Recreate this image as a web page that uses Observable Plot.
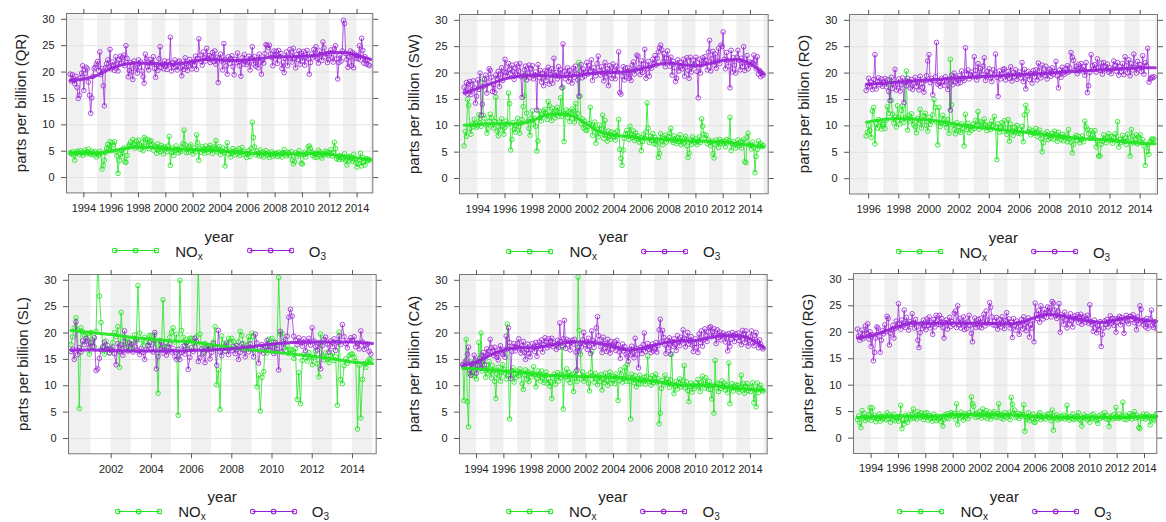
<!DOCTYPE html>
<html><head><meta charset="utf-8">
<script src="https://cdn.jsdelivr.net/npm/d3@7"></script>
<script src="https://cdn.jsdelivr.net/npm/@observablehq/plot@0.6"></script>
<style>
body{margin:0;background:#fff;font-family:"Liberation Sans",Arial,sans-serif;}
#wrap{position:relative;width:1166px;height:522px;overflow:hidden;background:#fff;}
.pl{position:absolute;}
.ytitle{position:absolute;white-space:nowrap;font-size:15px;color:#222;transform:translate(-50%,-50%) rotate(-90deg);}
.xtitle{position:absolute;white-space:nowrap;font-size:15px;color:#222;transform:translate(-50%,-50%);}
.leg{position:absolute;display:flex;align-items:center;white-space:nowrap;font-size:15px;color:#222;transform:translate(-50%,-50%);}
.leg sub{font-size:10px;vertical-align:-3px;line-height:0;}
</style></head><body><div id="wrap"></div><script>
// ---------- data (monthly means, ppb) ----------
const stations = ["QR","SW","RO","SL","CA","RG"];
const startYears = [1993,1993,1995,2000,1993,1993];
const startMonths = [0,0,10,0,0,0];

const qrNOx = [
4.7,4.5,4.9,4.3,3.3,4.6,5.0,4.8,4.4,5.1,4.7,4.2,
4.8,5.2,4.5,4.9,5.4,4.6,4.4,5.0,4.7,4.3,4.9,3.9,
4.6,4.2,5.0,4.6,1.6,2.3,3.3,4.8,5.6,6.3,5.4,6.8,
5.1,6.6,6.2,6.8,5.0,4.1,0.8,3.2,4.4,5.2,4.0,5.6,
3.0,2.9,4.2,5.8,6.2,6.7,5.9,7.2,6.3,5.6,6.9,5.8,
7.1,6.2,5.4,6.6,5.1,7.6,7.3,6.0,7.2,5.5,6.8,7.0,
6.3,5.2,6.0,5.8,4.6,6.4,5.3,4.9,6.1,5.7,4.5,5.8,
5.5,4.9,6.0,7.8,2.3,4.8,5.6,4.2,5.1,6.0,5.3,4.7,
5.2,4.9,5.8,6.4,9.0,6.2,4.7,5.4,4.8,5.9,6.2,5.1,
4.5,5.6,4.9,8.1,6.6,3.3,5.5,4.8,5.9,5.2,4.6,6.0,
5.3,4.8,5.7,6.1,5.2,4.6,5.8,5.5,7.0,4.9,5.4,5.9,
4.4,5.0,5.6,4.8,2.2,5.3,6.6,4.5,5.1,3.9,4.7,5.5,
4.9,4.3,5.2,4.6,5.5,4.2,4.8,5.7,4.4,5.0,4.6,3.8,
4.5,5.1,4.0,5.5,10.5,7.6,5.8,4.3,5.0,4.6,4.1,5.2,
4.2,4.8,3.9,4.6,5.1,4.3,4.7,3.8,4.4,4.9,4.0,4.6,
4.3,4.6,4.0,4.8,4.2,4.5,3.9,4.7,5.3,4.4,4.1,4.8,
4.6,4.2,4.9,3.3,2.6,3.0,4.7,4.0,4.5,5.1,4.3,2.7,
2.6,4.4,4.8,3.9,4.6,5.8,6.0,5.5,4.9,4.2,4.6,3.8,
4.4,3.9,5.2,4.8,4.1,3.7,4.6,4.3,5.0,4.5,4.9,4.2,
4.6,5.3,4.1,4.7,6.7,5.5,3.6,3.9,3.4,4.2,3.8,3.5,
3.7,4.5,3.3,2.4,3.9,3.2,4.0,3.6,3.1,4.4,3.5,2.8,
2.0,2.6,3.4,4.6,2.2,3.8,3.0,2.4,3.6,3.2,3.5,3.3];
const qrO3 = [
19.6,18.3,19.5,18.4,17.8,19.2,17.1,15.0,15.6,18.9,19.8,21.2,
16.5,19.7,20.9,20.6,18.1,15.6,12.2,15.1,19.2,20.6,20.9,21.5,
22.0,20.3,23.8,19.5,20.7,17.4,13.6,20.8,21.6,22.3,21.0,24.3,
20.6,21.9,21.3,20.3,22.9,21.5,20.2,22.4,23.0,21.7,22.8,23.2,
21.2,25.0,22.6,19.1,20.3,21.8,20.0,18.6,22.1,21.0,20.7,19.8,
22.3,21.0,21.9,20.2,19.1,17.9,23.4,22.5,21.0,20.4,22.4,21.6,
21.8,22.9,20.7,19.0,21.4,20.3,22.5,24.8,20.9,21.5,20.6,22.1,
21.3,20.5,22.0,21.4,26.6,20.2,21.7,20.9,22.3,21.0,20.4,21.9,
22.1,20.8,19.3,21.0,20.5,22.7,21.6,20.3,21.2,22.4,21.7,20.6,
22.0,21.4,23.0,20.5,22.6,26.3,23.2,22.0,21.3,23.8,22.7,22.1,
24.5,22.6,23.1,21.8,22.9,23.7,22.0,24.0,21.5,22.8,18.0,22.6,
23.4,22.1,20.4,25.4,22.3,21.2,19.6,22.9,21.7,22.5,23.1,21.0,
19.5,22.4,21.8,23.6,22.0,21.2,19.2,22.7,21.5,23.3,22.1,21.4,
21.8,23.0,20.4,22.6,24.8,21.5,22.9,21.1,22.3,20.8,23.4,21.9,
19.6,22.3,21.7,23.5,25.2,25.0,24.6,25.1,23.4,22.8,21.2,24.0,
22.5,23.9,21.6,24.1,22.9,23.5,20.7,21.8,19.9,22.6,23.8,21.2,
22.7,24.3,23.1,21.9,24.5,22.6,20.8,23.3,22.4,24.0,21.5,23.6,
22.1,23.9,21.3,22.8,24.1,22.5,19.6,21.8,23.4,22.7,24.3,23.0,
24.8,22.6,21.7,24.0,23.3,22.2,25.7,24.6,22.9,23.5,21.8,22.4,
23.6,24.2,22.7,21.9,24.4,25.0,22.5,18.7,21.8,23.2,22.1,24.0,
29.8,29.2,23.5,22.4,20.9,22.8,24.0,21.2,23.7,20.8,23.4,22.6,
23.1,22.5,25.0,22.3,26.4,24.1,21.7,22.9,21.5,22.3,21.4,21.2];

const swNOx = [
6.2,8.9,8.0,15.0,13.9,9.5,8.4,10.3,9.8,11.2,10.4,9.7,
10.0,12.1,10.6,9.9,18.9,12.0,11.4,10.2,8.6,9.4,10.8,12.2,
11.5,10.2,9.6,10.8,15.4,9.0,8.1,10.7,9.2,11.3,10.0,8.4,
9.7,10.9,10.2,16.2,14.2,5.4,7.4,10.6,9.3,8.8,10.1,11.4,
9.8,8.6,10.5,11.2,13.6,15.7,19.5,12.4,10.8,9.5,8.2,11.5,
12.8,10.3,11.4,9.9,5.2,7.1,12.8,11.6,10.9,12.2,12.7,13.1,
12.4,11.2,14.6,13.8,12.0,11.0,13.3,12.6,11.5,12.9,13.5,11.8,
12.5,15.3,11.8,17.3,7.0,12.2,13.0,11.6,12.7,10.8,12.4,13.2,
12.8,10.7,14.2,11.5,12.3,22.0,15.6,10.4,11.3,9.6,10.9,9.2,
9.1,9.8,10.4,13.5,10.1,8.2,9.6,10.7,6.7,9.3,7.9,10.1,
8.5,9.4,12.0,7.6,11.0,8.3,7.1,9.0,8.0,7.5,8.8,7.9,
8.6,7.3,8.1,9.0,11.2,5.5,3.8,2.5,5.4,7.6,8.4,9.1,
8.5,7.4,9.9,8.3,7.8,9.0,7.2,8.6,7.5,8.1,6.9,7.7,
5.3,7.0,8.4,7.6,8.8,14.3,9.5,6.8,8.0,7.2,8.5,6.6,
7.8,6.5,7.3,4.0,4.8,8.5,7.1,6.4,7.6,8.2,6.9,7.4,
7.9,8.6,9.5,7.2,6.8,8.1,7.5,6.6,7.8,7.0,8.3,6.4,
7.1,6.7,7.6,8.0,6.2,4.0,4.8,7.3,6.5,7.9,7.2,6.8,
7.5,6.4,7.0,7.9,6.8,11.3,9.9,8.4,7.7,8.2,6.6,7.3,
6.9,6.2,7.1,4.7,3.9,6.4,7.3,6.8,5.9,7.4,6.7,7.0,
6.7,7.1,6.0,7.4,6.8,7.2,11.6,5.3,6.6,7.0,6.4,5.8,
6.5,7.3,6.2,6.9,5.8,7.0,7.4,3.2,3.0,7.8,8.6,6.4,
6.3,5.6,6.9,5.9,1.1,4.2,5.5,7.1,6.2,6.6,6.0,6.3];
const swO3 = [
17.3,16.4,18.2,16.0,17.9,18.4,15.9,16.8,18.5,17.2,14.3,15.6,
18.7,16.9,20.0,12.0,14.1,17.5,18.8,19.6,16.2,18.3,20.8,20.5,
19.2,16.5,17.8,16.3,19.6,18.9,20.3,17.4,19.8,21.0,18.6,20.2,
22.6,20.1,19.4,21.8,20.7,19.9,21.5,20.3,18.8,20.9,21.7,19.6,
20.4,21.8,19.3,15.4,19.5,20.6,21.3,18.7,20.0,21.5,19.1,20.8,
21.4,18.9,19.6,20.2,13.0,21.6,19.2,20.5,18.3,19.9,17.6,20.4,
18.6,20.3,21.1,17.9,19.7,20.8,18.1,22.8,19.5,20.1,18.9,21.2,
19.4,20.6,17.2,25.5,20.3,18.9,19.8,21.0,18.4,20.5,19.6,18.1,
20.9,19.2,21.3,19.8,18.7,15.6,20.4,21.6,19.1,20.7,19.4,20.2,
22.0,19.8,21.4,20.3,22.5,18.6,21.0,20.1,19.5,21.8,23.2,20.4,
19.6,21.2,20.0,18.5,22.0,19.3,20.8,17.6,21.4,20.3,19.0,21.7,
20.5,18.9,21.3,20.2,24.0,16.3,16.0,19.4,21.2,18.7,20.9,19.3,
21.0,19.0,20.4,18.6,21.5,22.1,19.8,20.6,23.4,23.2,21.0,19.7,
22.3,20.1,21.7,24.5,19.0,20.8,22.2,19.4,21.3,20.9,22.6,21.8,
23.3,21.5,22.8,24.0,24.8,25.3,24.4,22.1,23.6,21.2,22.8,24.2,
22.7,21.3,23.0,19.6,22.2,21.0,18.4,19.0,22.5,20.4,22.0,21.2,
20.8,22.6,19.4,21.8,22.9,20.5,19.0,23.0,20.2,21.3,22.4,21.5,
23.0,20.3,15.3,22.6,20.0,21.6,22.9,21.9,23.1,22.4,20.6,24.0,
26.2,20.4,22.7,24.1,21.5,23.6,20.9,22.3,24.7,21.8,25.3,25.0,
27.8,22.6,20.8,23.9,22.4,21.3,17.2,24.3,20.2,22.9,21.5,20.0,
23.0,24.3,22.4,20.6,22.8,21.2,25.0,20.5,22.0,23.3,20.8,22.1,
21.6,22.0,21.9,23.4,22.3,20.8,23.1,19.8,20.5,19.3,20.0,19.6];

const roNOx = [
8.1,8.8,
10.0,9.1,7.8,12.8,13.5,6.6,10.4,9.6,11.2,10.7,9.4,10.3,
10.3,9.5,11.1,13.6,12.4,18.7,14.8,12.2,10.6,11.7,9.8,13.8,
11.6,10.4,12.9,13.8,10.7,11.5,20.4,9.2,12.0,10.9,12.3,11.1,
10.2,9.8,8.7,11.4,10.5,13.1,9.6,10.8,11.9,12.4,10.1,9.0,
11.6,10.3,10.9,12.1,15.0,13.5,10.7,6.4,13.5,9.9,10.5,12.0,
11.3,10.4,9.7,11.2,8.6,22.6,14.0,10.2,9.3,8.5,10.6,9.8,
9.1,8.8,10.4,9.5,6.2,12.2,9.3,10.5,8.7,9.9,9.2,10.3,
9.5,11.0,10.1,12.7,9.4,10.8,10.6,9.8,11.3,10.2,9.1,10.0,
10.2,9.3,10.9,10.1,11.8,9.7,3.6,10.4,8.8,9.5,10.6,9.0,
11.0,9.6,8.4,11.2,7.1,10.3,9.0,8.2,9.7,8.9,10.1,8.6,
9.2,8.5,9.9,7.0,12.1,13.9,12.8,8.9,9.4,8.3,9.1,8.6,
8.7,9.5,8.0,8.8,9.2,7.6,5.1,6.8,8.5,7.9,8.9,7.4,
8.2,7.7,8.6,7.5,9.0,8.3,7.1,8.8,8.0,7.4,8.4,7.2,
7.9,8.3,7.0,9.3,7.6,6.9,4.9,6.5,7.8,8.2,7.3,8.0,
6.8,7.4,8.1,7.0,10.9,9.8,9.3,8.5,7.6,9.1,8.2,7.7,
9.1,6.0,7.2,4.3,4.3,6.5,7.1,8.3,7.6,6.8,7.9,8.5,
7.3,8.0,6.7,7.8,8.5,7.2,10.8,6.0,7.4,6.9,8.2,7.0,
7.7,6.5,8.4,7.1,4.3,9.3,8.1,6.8,7.5,8.3,6.6,7.9,
8.3,6.9,7.4,6.2,2.5,5.2,6.5,4.6,7.0,7.5,7.4,7.5];
const roO3 = [
16.7,17.6,
19.0,17.4,18.3,16.9,18.8,23.5,17.0,18.4,19.1,17.8,18.9,17.5,
18.2,19.0,17.4,18.7,16.5,14.8,19.2,17.1,18.0,20.7,16.8,17.9,
18.9,16.6,17.8,19.1,14.4,18.3,17.6,19.0,18.4,17.2,18.8,16.9,
18.1,19.2,17.5,18.4,16.8,19.4,18.0,17.3,16.4,18.6,19.5,22.3,
23.5,18.2,19.0,15.9,18.6,19.3,25.8,17.9,18.2,17.5,19.0,18.4,
17.7,19.3,18.5,16.9,18.8,13.0,19.6,17.8,20.0,18.3,19.1,18.0,
19.5,18.2,20.4,19.0,18.6,24.8,19.8,20.6,18.9,19.7,20.2,19.3,
23.1,20.5,18.7,21.8,19.4,20.9,19.8,21.3,22.9,18.6,20.3,19.5,
20.8,19.1,18.4,20.6,19.7,23.6,19.2,15.6,20.4,18.9,19.8,20.7,
20.8,18.7,19.5,20.3,19.0,21.2,18.5,20.1,19.3,20.6,18.8,19.7,
20.2,19.1,22.0,18.4,20.7,17.0,19.5,20.3,18.8,19.9,18.1,20.5,
19.3,20.6,18.7,21.9,20.4,19.1,21.5,20.0,19.6,21.3,18.9,20.2,
20.7,19.4,21.0,19.8,20.3,22.2,19.5,17.2,20.6,19.2,21.1,20.1,
19.8,20.9,21.4,20.2,21.0,23.9,23.0,22.4,20.5,21.3,19.9,21.6,
20.4,21.8,20.7,21.2,19.6,22.0,16.3,17.6,20.1,23.5,21.4,20.8,
21.6,20.2,22.7,21.0,20.5,21.9,19.8,22.0,21.3,20.6,21.7,20.2,
21.0,19.9,20.8,22.3,21.5,20.4,22.0,19.6,21.2,20.3,21.8,19.7,
23.1,21.4,20.1,22.5,19.5,21.8,20.6,23.6,21.1,20.0,22.2,20.9,
21.6,20.3,23.3,19.8,22.0,21.4,24.7,18.3,18.9,19.2,19.1,19.3];

const slNOx = [
17.8,19.3,21.0,22.9,20.6,5.7,21.0,20.2,19.6,18.4,19.9,16.0,
20.1,18.7,17.4,20.3,34.0,27.0,22.0,17.2,16.0,18.5,17.0,16.3,
17.0,18.2,20.1,19.3,21.2,13.5,23.9,18.4,17.6,19.0,18.1,16.9,
18.5,17.2,19.6,18.5,29.0,20.0,18.7,17.6,19.2,18.4,17.7,19.5,
19.5,18.1,19.7,17.9,8.6,18.6,17.3,26.3,16.8,18.0,17.4,19.2,
20.1,21.0,18.3,19.8,4.4,30.0,20.5,19.2,17.6,18.8,16.9,19.0,
19.0,18.2,17.5,19.3,33.0,19.8,17.8,16.4,18.0,17.2,16.9,17.0,
17.0,18.3,21.2,10.2,13.0,5.5,19.4,18.1,16.6,17.8,19.0,18.2,
19.0,18.4,17.2,16.9,18.3,20.3,19.5,18.0,16.8,17.7,19.3,18.6,
20.0,19.4,17.1,9.8,12.0,5.2,11.6,12.7,17.5,16.2,18.8,17.4,
19.0,18.3,16.4,17.7,30.5,19.8,19.9,18.4,16.7,17.5,16.1,16.8,
16.8,15.2,17.0,7.4,12.5,6.6,14.8,16.0,15.4,14.7,16.3,15.5,
14.0,15.3,16.5,14.2,11.7,19.8,15.6,14.9,16.2,15.0,14.4,15.8,
16.2,14.8,15.5,6.3,20.2,11.2,10.4,13.8,15.1,14.3,15.7,16.0,
16.0,15.4,14.6,1.8,13.9,3.9,11.2,14.2,13.5,14.5,15.0,15.0];
const slO3 = [
16.5,16.9,15.0,22.1,15.9,17.2,16.4,18.5,17.8,19.0,18.6,17.3,
18.2,17.5,19.1,12.9,13.2,15.2,16.8,17.4,18.3,16.9,17.6,16.2,
16.8,17.3,16.1,14.0,18.0,16.5,17.8,15.8,20.4,17.2,16.6,18.1,
17.9,16.4,17.5,18.8,16.7,15.9,17.1,16.3,15.0,16.8,17.6,18.2,
17.0,16.4,20.1,13.2,15.5,16.9,18.3,16.2,17.4,15.8,16.6,17.9,
16.4,17.1,15.6,15.0,16.9,15.0,16.3,17.5,16.0,18.2,13.1,15.4,
17.2,16.5,19.0,18.4,14.6,15.3,17.0,16.1,14.4,16.8,17.6,15.1,
16.3,18.0,17.2,13.9,20.5,16.4,15.7,17.3,16.6,18.1,15.9,17.0,
16.7,17.4,16.1,17.6,15.0,16.3,17.9,16.8,15.5,17.2,16.4,18.0,
16.9,15.5,19.8,18.1,14.3,16.6,17.8,16.2,17.4,18.6,16.8,17.5,
17.3,16.1,18.2,17.0,13.0,20.3,16.5,17.9,18.8,19.4,23.0,24.5,
23.2,19.4,18.6,17.8,19.1,18.2,17.5,18.9,16.6,18.3,19.0,17.7,
21.0,18.5,17.4,16.8,18.1,13.2,17.6,18.8,19.2,17.9,16.4,18.5,
17.4,18.9,16.7,18.2,19.4,17.8,21.6,19.3,18.0,17.2,18.6,19.1,
18.6,19.3,17.4,18.1,17.0,20.4,18.3,16.9,17.7,17.9,16.5,16.0];

const caNOx = [
14.0,7.2,13.5,18.8,7.0,2.2,12.3,14.5,12.0,13.6,11.8,14.9,
11.3,13.7,18.2,14.1,20.0,12.8,15.0,13.2,11.6,13.9,12.4,14.6,
12.7,11.5,13.8,12.9,10.8,7.6,12.2,13.5,11.9,10.9,12.6,14.0,
13.1,12.4,11.3,21.7,12.0,3.7,11.8,12.9,13.4,10.7,12.2,11.6,
12.8,11.9,13.2,12.5,10.4,9.3,12.1,13.0,11.2,12.7,10.8,12.4,
11.7,12.3,13.6,12.1,9.8,11.4,12.8,12.0,10.9,12.8,11.5,10.6,
11.9,12.6,10.5,11.3,9.9,10.7,7.6,11.4,12.2,10.3,11.8,12.5,
10.9,12.1,11.6,17.3,5.6,11.8,12.4,13.2,11.1,12.5,10.6,11.9,
12.2,8.9,11.5,12.7,10.8,30.6,20.5,16.0,11.3,12.6,10.9,11.7,
11.4,12.0,10.5,9.0,12.5,16.5,11.9,10.7,12.3,11.5,10.2,11.8,
10.8,12.1,9.2,11.3,10.6,12.4,11.0,10.1,11.7,12.6,10.5,11.2,
11.8,10.4,12.2,11.5,7.2,11.0,13.0,12.1,10.7,11.4,13.5,10.9,
14.0,11.5,10.8,3.7,12.2,11.1,10.6,11.9,9.8,11.3,10.4,12.0,
10.4,11.2,10.9,11.6,10.3,11.8,15.6,10.8,11.4,10.1,11.9,10.6,
11.5,12.2,10.7,11.3,2.8,4.8,9.5,11.0,10.2,12.0,10.6,11.2,
10.5,9.7,11.1,16.0,10.3,8.5,9.9,10.8,9.4,10.6,11.3,9.8,
10.2,11.0,13.8,9.6,10.7,9.1,7.0,9.9,10.5,8.8,10.1,9.5,
10.5,9.8,11.2,10.0,8.9,10.7,11.8,10.3,9.6,11.5,10.1,9.4,
10.8,9.3,7.5,10.1,4.8,14.8,9.7,10.5,8.9,10.3,9.5,10.9,
9.8,10.5,9.2,10.1,8.7,14.3,6.6,9.6,10.4,9.0,9.9,10.2,
9.4,10.1,8.8,9.7,12.0,9.2,10.4,8.6,9.9,10.4,9.1,9.6,
8.9,9.8,10.6,6.8,9.3,6.0,10.5,8.7,9.6,10.1,9.2,9.0];
const caO3 = [
14.0,13.6,14.5,14.9,16.0,17.3,13.0,12.0,14.2,13.5,15.8,14.7,
12.4,13.9,14.6,15.2,13.3,15.8,16.3,14.0,15.5,17.0,15.9,16.6,
18.8,17.2,16.5,15.7,17.3,16.0,15.4,14.9,16.8,17.6,16.2,15.9,
16.8,15.4,19.4,17.0,21.0,18.2,11.4,16.5,17.4,18.0,16.6,17.3,
18.0,18.9,17.1,16.2,17.6,18.4,16.3,15.0,16.8,17.9,16.1,15.5,
16.9,18.0,17.3,16.5,18.2,15.6,17.5,18.3,17.0,18.7,16.4,17.8,
19.1,18.3,17.2,18.9,17.6,18.5,19.0,17.4,18.1,17.7,16.9,18.6,
17.3,21.9,18.4,17.6,18.9,22.4,17.1,18.8,17.9,18.5,16.8,18.2,
18.6,17.9,18.8,16.4,13.0,17.3,16.5,18.1,17.4,18.7,20.1,17.8,
18.3,16.9,19.0,17.5,16.1,20.4,18.6,17.3,18.2,21.0,23.1,19.5,
18.7,17.4,16.3,19.2,18.0,17.1,16.5,18.8,17.6,16.2,18.4,17.0,
17.5,18.3,16.7,18.6,17.8,16.4,15.2,17.0,17.9,16.6,17.4,16.0,
15.6,14.6,16.9,15.9,17.5,16.2,15.3,19.0,17.1,16.0,13.4,16.8,
17.3,16.1,17.8,20.0,16.5,17.2,18.0,16.9,17.4,16.3,17.9,16.6,
17.0,18.2,16.4,17.6,20.6,22.6,18.3,20.5,19.2,17.8,16.1,18.6,
17.2,19.1,16.0,18.4,17.5,18.9,17.8,16.7,19.5,18.3,17.6,19.2,
18.5,20.6,19.0,17.4,18.8,20.1,17.9,18.6,19.3,17.7,16.5,18.0,
18.9,17.3,16.3,19.8,18.2,20.4,17.5,18.7,20.8,19.6,18.4,20.2,
21.0,21.2,19.3,20.3,20.8,19.5,18.0,20.6,19.1,20.2,18.7,19.6,
20.0,19.4,18.3,19.7,16.6,19.9,17.5,18.8,20.1,19.5,18.4,19.8,
19.1,20.0,18.6,19.3,17.8,20.5,19.7,18.2,20.4,19.0,17.5,18.6,
19.3,20.4,18.1,17.6,19.5,20.1,18.4,17.2,18.7,17.9,17.3,17.0];

const rgNOx = [
3.5,4.2,2.9,2.0,5.2,3.8,4.6,3.3,4.0,3.6,4.4,5.8,
3.4,5.7,3.9,4.3,3.1,4.0,3.7,4.5,3.2,4.1,3.6,3.9,
4.2,3.5,4.8,3.7,4.4,3.0,4.1,3.6,4.5,3.3,3.8,4.0,
3.2,4.1,6.2,1.8,3.4,2.7,4.3,3.5,3.0,4.4,3.9,3.6,
4.5,5.5,3.8,4.2,3.6,5.0,4.4,3.9,4.8,4.1,3.5,4.7,
4.0,4.8,3.4,4.3,3.7,4.1,3.2,4.5,3.9,3.3,4.2,3.6,
3.8,3.2,4.1,2.3,3.5,4.4,3.9,4.6,3.7,4.2,4.8,4.5,
4.2,4.7,3.6,6.5,2.6,4.3,3.8,4.9,4.1,3.4,4.6,4.0,
4.4,3.7,4.8,4.2,7.8,6.5,6.0,4.5,3.9,4.7,4.1,5.0,
4.3,3.8,5.5,4.6,4.0,5.2,3.7,4.4,4.9,3.6,4.2,4.7,
5.0,4.1,3.9,4.6,6.5,4.3,3.8,4.5,3.6,4.8,4.2,3.9,
4.4,4.9,3.5,7.7,6.4,4.6,5.3,3.9,4.2,4.7,3.7,4.5,
4.1,4.5,6.3,1.3,4.0,3.6,4.8,3.3,4.2,3.7,4.5,3.0,
3.0,4.1,3.7,4.4,4.8,3.5,4.0,3.8,4.3,3.6,4.1,4.5,
3.9,4.6,3.3,5.3,1.5,4.2,3.8,4.4,3.5,4.0,3.7,4.2,
3.8,4.3,3.6,4.0,6.2,3.9,3.4,4.1,3.7,4.5,3.5,4.0,
3.7,4.2,4.8,3.6,3.3,2.3,3.9,4.4,3.8,4.1,3.5,4.0,
3.0,4.3,3.8,4.5,3.6,4.0,3.3,2.8,4.2,3.7,4.4,3.9,
4.1,4.8,3.7,4.3,3.5,2.2,3.9,4.2,3.6,4.4,3.8,5.8,
4.0,3.7,4.5,3.9,4.2,6.8,3.6,4.3,3.5,4.1,3.8,4.6,
4.2,3.6,4.4,5.0,3.8,4.3,3.9,2.0,1.8,4.1,3.7,4.5,
4.0,3.6,4.5,3.9,4.2,2.5,3.7,4.1,3.5,3.3,4.4,4.7];
const rgO3 = [
20.6,19.3,18.5,19.0,20.4,18.8,19.6,21.2,19.9,21.6,18.7,20.1,
17.3,19.5,14.6,16.2,18.9,21.0,20.8,19.2,16.2,18.5,20.3,19.7,
21.4,20.1,23.0,22.6,17.6,19.8,20.5,21.3,18.9,20.7,22.1,21.0,
25.4,21.5,20.6,22.3,21.2,24.2,20.9,22.8,21.7,20.4,22.0,21.5,
23.5,21.8,20.8,22.4,21.0,18.5,17.1,19.9,21.6,20.7,22.3,21.2,
20.5,22.5,21.3,22.9,20.8,21.9,19.6,22.4,21.0,23.2,22.2,21.5,
23.2,21.4,22.6,20.9,18.9,21.8,22.3,20.6,21.9,22.8,21.1,22.0,
21.5,23.6,24.0,20.9,25.0,21.4,22.6,20.8,21.7,22.9,20.5,21.8,
20.7,22.1,23.2,21.3,19.8,18.2,21.5,22.7,20.9,21.6,22.4,21.0,
22.6,20.8,21.9,23.4,21.2,24.0,22.3,21.6,25.6,24.7,22.9,21.4,
22.0,21.3,22.8,20.6,21.5,22.4,21.0,22.9,21.8,20.7,22.2,23.7,
21.6,22.5,20.8,21.9,19.0,22.6,21.3,20.4,22.1,21.7,19.6,21.2,
22.4,20.6,22.9,21.5,20.3,21.8,22.7,19.1,21.4,20.8,22.2,18.2,
25.5,23.4,22.6,24.1,21.9,25.0,23.2,22.5,24.3,23.6,22.8,24.8,
23.7,24.6,22.9,25.8,25.5,24.2,23.1,22.6,24.0,25.4,20.0,23.3,
22.7,21.5,23.8,22.4,20.8,22.9,21.6,23.5,22.2,21.0,22.6,23.1,
22.5,23.3,21.8,22.9,23.4,21.5,22.7,23.0,21.9,22.4,23.2,21.7,
25.2,22.0,21.4,20.2,22.3,21.6,19.9,21.2,20.5,22.0,17.3,19.6,
20.8,22.1,21.5,22.4,21.0,22.0,23.1,21.7,22.6,21.3,22.5,20.0,
21.9,22.6,23.0,21.4,22.8,22.0,19.8,22.5,23.2,22.1,21.6,23.0,
23.0,22.4,23.3,21.8,22.6,20.5,22.9,21.6,25.0,24.3,22.2,21.4,
22.3,21.0,22.6,20.7,21.8,22.5,24.2,21.3,20.9,22.0,21.5,20.6];

// smooth trend (knot years + values)
const trendYears93 = [1993,1994,1995,1996,1997,1998,1999,2000,2001,2002,2003,2004,2005,2006,2007,2008,2009,2010,2011,2012,2013,2014,2015];
const trendYearsRO = [1995.85,1997,1998,1999,2000,2001,2002,2003,2004,2005,2006,2007,2008,2009,2010,2011,2012,2013,2014,2015];
const trendYearsSL = [2000,2001,2002,2003,2004,2005,2006,2007,2008,2009,2010,2011,2012,2013,2014,2015];
const trendYearsRG = [1993,1994,1995,1996,1997,1998,1999,2000,2001,2002,2003,2004,2005,2006,2007,2008,2009,2010,2011,2012,2013,2014,2014.9];
const qrNOxTrend = [4.7,4.6,4.6,5.0,5.5,5.8,5.7,5.5,5.4,5.3,5.2,5.0,4.9,4.7,4.5,4.5,4.5,4.5,4.6,4.4,4.1,3.7,3.4];
const qrO3Trend = [18.4,18.7,19.4,20.7,21.5,21.7,21.6,21.5,21.6,22.0,22.4,22.3,22.2,22.3,22.6,22.9,22.9,23.0,23.2,23.7,23.7,23.2,22.4];
const swNOxTrend = [10.1,10.3,10.4,10.4,10.4,11.0,12.0,12.3,11.8,10.3,8.8,8.2,8.0,7.6,7.5,7.4,7.2,7.1,7.0,6.9,6.6,6.3,6.0];
const swO3Trend = [16.2,17.1,18.0,18.9,19.4,19.6,19.5,19.4,19.5,19.8,20.1,20.1,20.3,20.8,21.5,21.9,21.6,21.4,21.8,22.4,22.5,21.7,19.8];
const roNOxTrend = [10.7,11.2,11.4,11.3,11.1,10.7,10.2,9.8,9.5,9.2,8.9,8.6,8.25,7.9,7.6,7.45,7.3,7.0,6.7,6.6];
const roO3Trend = [17.9,18.1,18.3,18.5,18.7,18.9,19.1,19.25,19.4,19.55,19.7,19.85,20.0,20.2,20.4,20.55,20.7,20.85,21.0,21.0];
const slNOxTrend = [20.5,20.1,19.7,19.2,18.8,18.5,18.3,17.8,17.2,16.8,16.4,16.0,15.6,15.1,14.5,14.2];
const slO3Trend = [16.8,16.8,16.7,16.6,16.6,16.6,16.7,16.8,17.0,17.4,17.9,18.2,18.3,18.3,18.3,18.0];
const caNOxTrend = [13.3,13.2,13.0,12.8,12.6,12.3,12.0,11.9,11.8,11.75,11.7,11.6,11.4,11.1,10.8,10.4,10.1,10.1,10.1,9.8,9.5,9.3,9.2];
const caO3Trend = [13.9,14.5,15.8,16.8,17.2,17.2,17.5,18.0,18.3,18.3,18.0,17.5,16.8,17.0,17.7,18.3,18.5,18.6,19.1,19.5,19.5,18.9,17.2];
const rgNOxTrend = [3.9,4.0,4.1,4.2,4.15,4.1,4.2,4.4,4.4,4.4,4.4,4.4,4.3,4.1,4.0,3.9,3.9,3.95,3.9,3.9,3.95,4.05,4.1];
const rgO3Trend = [18.9,19.4,20.2,21.1,21.75,21.7,21.7,21.75,21.7,21.7,21.65,21.6,21.9,22.8,23.4,23.1,22.5,22.1,21.9,22.4,22.8,22.2,22.1];

const yTicks = [0,5,10,15,20,25,30];
const xTicks93 = [1994,1996,1998,2000,2002,2004,2006,2008,2010,2012,2014];
const xTicksRO = [1996,1998,2000,2002,2004,2006,2008,2010,2012,2014];
const xTicksSL = [2002,2004,2006,2008,2010,2012,2014];

// ---------- layout ----------
const COL_NOX = "#1fe51f", COL_O3 = "#9a22d6";
const FONT = "'Liberation Sans', Arial, sans-serif";
const panels = [
  {i:0, nox:qrNOx, o3:qrO3, ty:trendYears93, tn:qrNOxTrend, to:qrO3Trend, xt:xTicks93, f:[66,372.3,13.3,192.7], xd:[1992.73,2015.15]},
  {i:1, nox:swNOx, o3:swO3, ty:trendYears93, tn:swNOxTrend, to:swO3Trend, xt:xTicks93, f:[459,767.7,14,193.3], xd:[1992.66,2015.3]},
  {i:2, nox:roNOx, o3:roO3, ty:trendYearsRO, tn:roNOxTrend, to:roO3Trend, xt:xTicksRO, f:[849.3,1157.3,14,193.5], xd:[1994.73,2015.15]},
  {i:3, nox:slNOx, o3:slO3, ty:trendYearsSL, tn:slNOxTrend, to:slO3Trend, xt:xTicksSL, f:[68.3,376,274,453.3], xd:[1999.88,2015.18]},
  {i:4, nox:caNOx, o3:caO3, ty:trendYears93, tn:caNOxTrend, to:caO3Trend, xt:xTicks93, f:[459,766.7,274,453.3], xd:[1992.76,2015.22]},
  {i:5, nox:rgNOx, o3:rgO3, ty:trendYearsRG, tn:rgNOxTrend, to:rgO3Trend, xt:xTicks93, f:[852.7,1156,273.3,453.3], xd:[1992.71,2014.9]},
];
const wrap = document.getElementById("wrap");
const ML = 60, MR = 12, MT = 12, MB = 30;

function legendSwatch(color){
  return `<svg width="47" height="10" style="display:block"><line x1="2.5" x2="44.5" y1="5" y2="5" stroke="${color}" stroke-width="1.2"/>`+
    [2.5,23.5,44.5].map(cx=>`<circle cx="${cx}" cy="5" r="2.3" fill="none" stroke="${color}" stroke-width="1.1"/>`).join("")+`</svg>`;
}

for (const p of panels) {
  const sy = startYears[p.i], sm = startMonths[p.i];
  const noxRows = p.nox.map((v,k)=>({t: sy + (sm + k)/12, v}));
  const o3Rows = p.o3.map((v,k)=>({t: sy + (sm + k)/12, v}));
  const tn = p.ty.map((t,k)=>({t, v:p.tn[k]}));
  const to = p.ty.map((t,k)=>({t, v:p.to[k]}));
  const [L,R,T,B] = p.f;
  const bands = [];
  bands.push({x1:p.xd[0], x2:sy+1});
  for (let y = sy+2; y < p.xd[1]; y += 2) bands.push({x1:y, x2:Math.min(y+1, p.xd[1])});
  const W = (R-L)+ML+MR, H = (B-T)+MT+MB;
  const svg = Plot.plot({
    width: W, height: H, marginLeft: ML, marginRight: MR, marginTop: MT, marginBottom: MB,
    x: {domain: p.xd, axis: null, label: null},
    y: {domain: [-2.9, 31.1], axis: null, label: null},
    style: {fontFamily: FONT, fontSize: "11px", color: "#222", background: "transparent", overflow: "visible"},
    marks: [
      Plot.rect(bands, {x1:"x1", x2:"x2", fill:"#f0f0f0"}),
      Plot.ruleY(yTicks, {stroke:"#e2e2e2", strokeWidth:1}),
      Plot.line(noxRows, {x:"t", y:"v", stroke:COL_NOX, strokeWidth:1, strokeOpacity:0.8, clip:true}),
      Plot.dot(noxRows, {x:"t", y:"v", r:2.3, stroke:COL_NOX, strokeWidth:1, fill:"none", strokeOpacity:0.85, clip:true}),
      Plot.line(o3Rows, {x:"t", y:"v", stroke:COL_O3, strokeWidth:1, strokeOpacity:0.75, clip:true}),
      Plot.dot(o3Rows, {x:"t", y:"v", r:2.3, stroke:COL_O3, strokeWidth:1, fill:"none", strokeOpacity:0.8, clip:true}),
      Plot.line(tn, {x:"t", y:"v", stroke:COL_NOX, strokeWidth:3, curve:"monotone-x", strokeOpacity:0.9}),
      Plot.line(to, {x:"t", y:"v", stroke:COL_O3, strokeWidth:3, curve:"monotone-x", strokeOpacity:0.9}),
      Plot.frame({stroke:"#777"}),
      Plot.axisY(yTicks, {anchor:"left", label:null, tickSize:5, tickPadding:7, stroke:"#555", fill:"#222", tickFormat:"d"}),
      Plot.axisY(yTicks, {anchor:"right", label:null, tickSize:5, stroke:"#555", tickFormat:()=>""}),
      Plot.axisX(p.xt, {anchor:"bottom", label:null, tickSize:5, tickPadding:6, stroke:"#555", fill:"#222", tickFormat:"d"}),
      Plot.axisX(p.xt, {anchor:"top", label:null, tickSize:5, stroke:"#555", tickFormat:()=>""})
    ]
  });
  svg.classList.add("pl");
  svg.style.left = (L-ML)+"px";
  svg.style.top = (T-MT)+"px";
  wrap.appendChild(svg);

  const cx = (L+R)/2, cy = (T+B)/2;
  const yt = document.createElement("div");
  yt.className = "ytitle";
  yt.style.left = (L-46)+"px"; yt.style.top = cy+"px";
  yt.textContent = `parts per billion (${stations[p.i]})`;
  wrap.appendChild(yt);

  const xt = document.createElement("div");
  xt.className = "xtitle";
  xt.style.left = cx+"px"; xt.style.top = (B+43)+"px";
  xt.textContent = "year";
  wrap.appendChild(xt);

  const lg = document.createElement("div");
  lg.className = "leg";
  lg.style.left = cx+"px"; lg.style.top = (B+58)+"px";
  lg.innerHTML = legendSwatch(COL_NOX) + `<span style="margin-left:16px">NO<sub>x</sub></span>` +
                 `<span style="margin-left:44px"></span>` + legendSwatch(COL_O3) + `<span style="margin-left:15px">O<sub>3</sub></span>`;
  wrap.appendChild(lg);
}
</script></body></html>
